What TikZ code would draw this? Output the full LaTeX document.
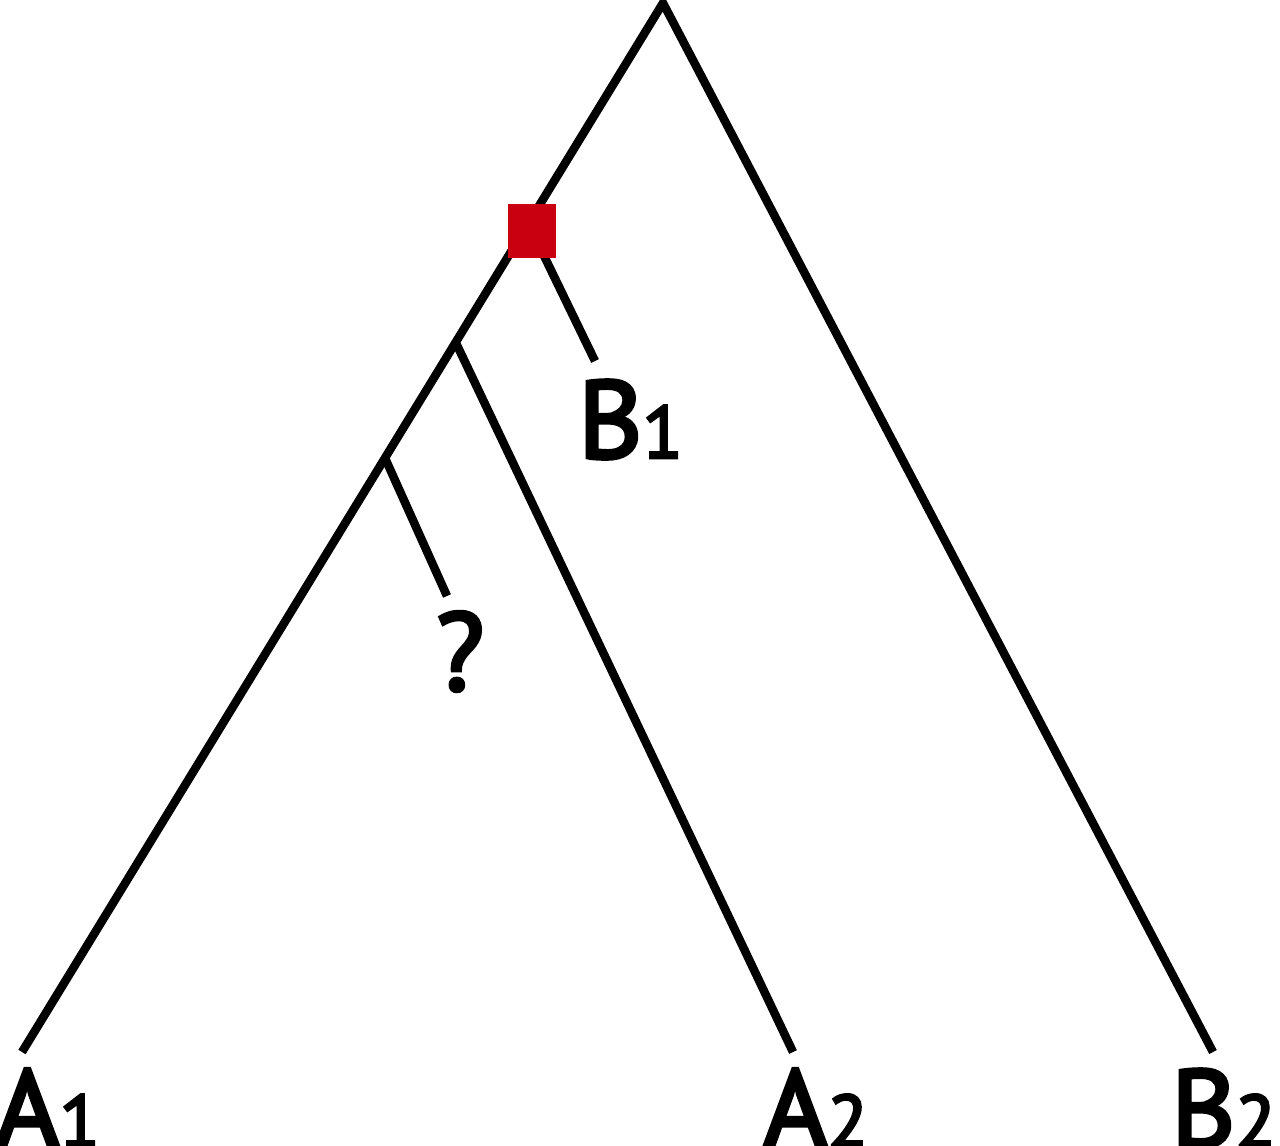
\documentclass[tikz,border=0pt]{standalone}
\usepackage{fontspec}
\setmainfont{PT Sans}
\newfontfamily\lblfont[FakeBold=3.5]{PT Sans}
\definecolor{dupred}{RGB}{200,0,16}
\begin{document}
\begin{tikzpicture}[x=1pt,y=-1pt,
  branch/.style={line width=8.5pt, black},
  lbl/.style={inner sep=0pt, anchor=base west, font=\lblfont\fontsize{110}{110}\selectfont},
  dup/.style={fill=dupred, draw=none, minimum width=48pt, minimum height=54pt, inner sep=0pt}]
\useasboundingbox (0,0) rectangle (1280,1146);
% internal nodes
\coordinate (root) at (663,3);
\coordinate (jb) at (532,231);
\coordinate (ja) at (456,343);
\coordinate (jq) at (385,458);
% leaf tips
\coordinate (tA1) at (22,1052);
\coordinate (tA2) at (793,1052);
\coordinate (tB2) at (1213,1052);
\coordinate (tB1) at (595,361);
\coordinate (tQ) at (447,596);
% branches
\draw[branch, line join=miter] (tA1) -- (root) -- (tB2);
\draw[branch] (ja) -- (tA2);
\draw[branch] (jq) -- (tQ);
\draw[branch] (jb) -- (tB1);
% duplication node
\node[dup] (dup) at (532,231) {};
% labels
\node[lbl] (A1) at (-5,1147) {A{\fontsize{74}{74}\selectfont 1}};
\node[lbl] (A2) at (763,1147) {A{\fontsize{74}{74}\selectfont 2}};
\node[lbl] (B2) at (1171,1147) {B{\fontsize{74}{74}\selectfont 2}};
\node[lbl] (B1) at (578,458) {B{\fontsize{74}{74}\selectfont 1}};
\node[lbl] (Q) at (436,690) {?};
\end{tikzpicture}
\end{document}
